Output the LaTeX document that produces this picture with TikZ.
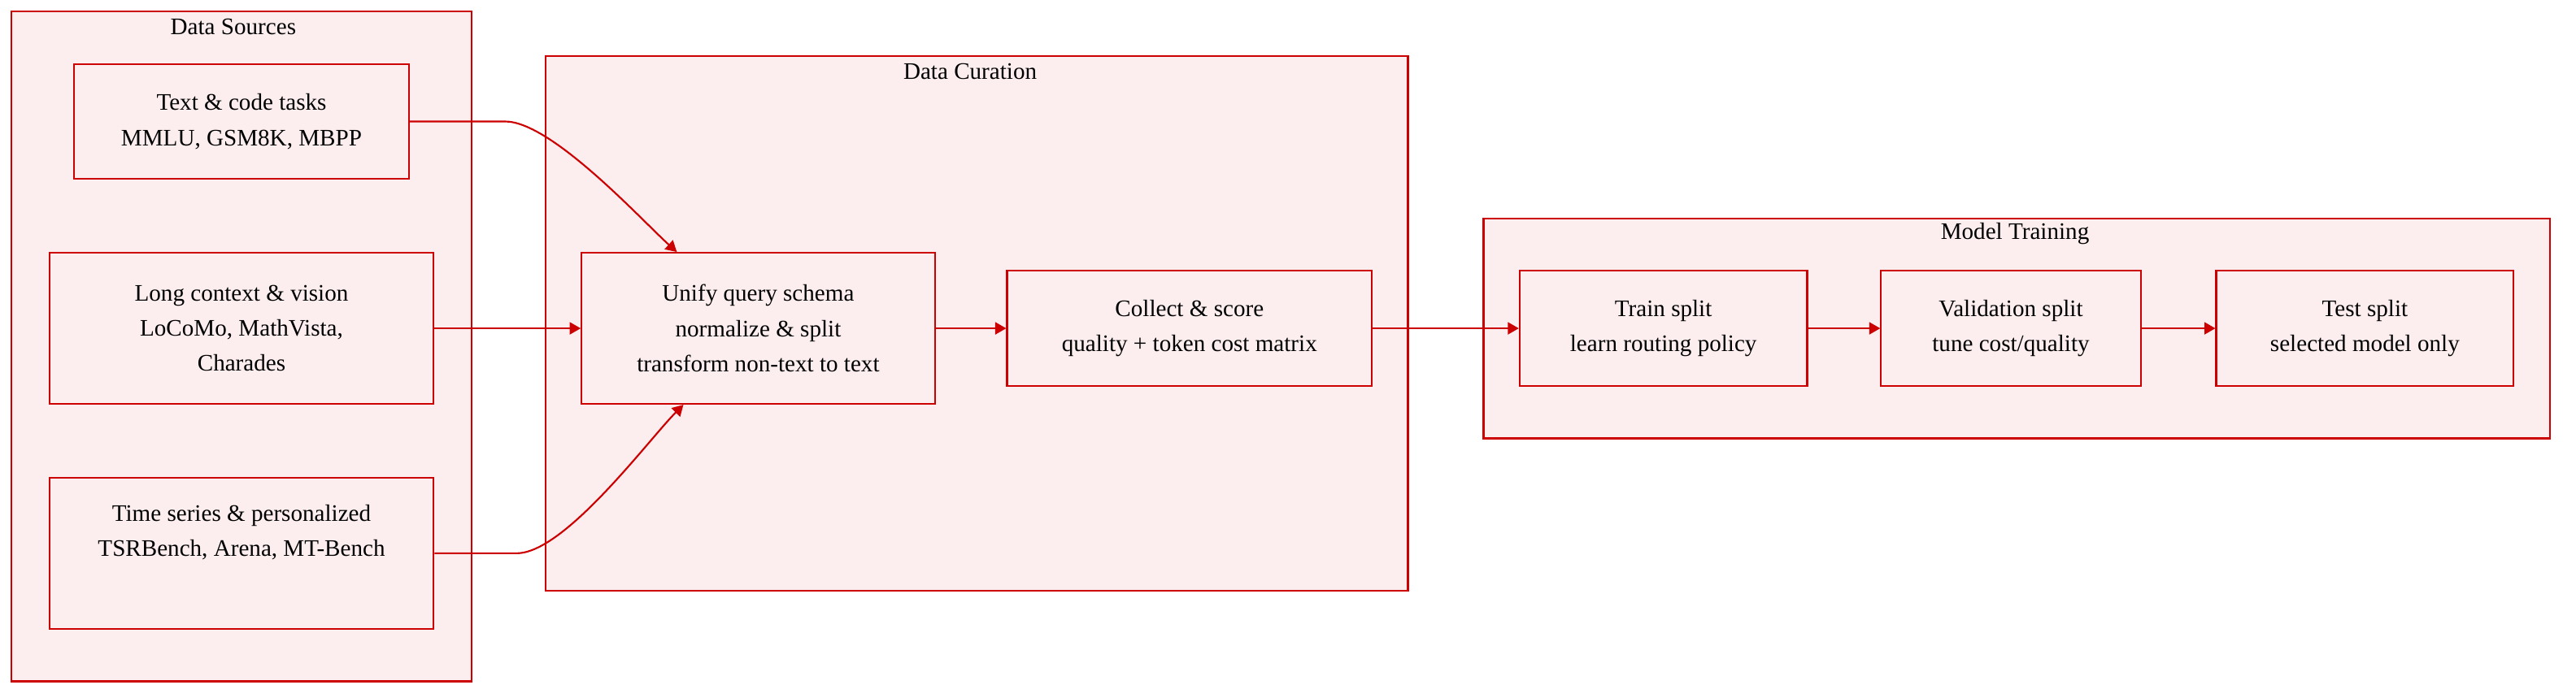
\documentclass[tikz,border=0pt]{standalone}
\usepackage{fontspec}
\setmainfont{Liberation Serif}
\usepackage{tikz}
\usetikzlibrary{shapes,arrows,arrows.meta,positioning}
\usepackage{xcolor}
\definecolor{edgered}{HTML}{CC0000}
\definecolor{boxpink}{HTML}{FCEEEF}

\begin{document}
\begin{tikzpicture}[x=0.2mm,y=0.2mm,
        font=\fontsize{8.2}{12.2}\selectfont,
        cluster/.style={draw=edgered,fill=boxpink,line width=0.6pt,inner sep=0pt},
        stepbox/.style={draw=edgered,fill=boxpink,line width=0.6pt,align=center,
                minimum height=14mm,inner sep=0pt},
        flow/.style={edgered,line width=0.6pt,-{Triangle[length=3.8pt,width=4.2pt]}}]
        \useasboundingbox (0,0) rectangle (1568,425);
        % groups
        \node[cluster,minimum width=56mm,minimum height=81.6mm] (sources) at (147,214) {};
        \node[cluster,minimum width=105mm,minimum height=65.2mm] (curation) at (594.5,228) {};
        \node[cluster,minimum width=129.8mm,minimum height=26.8mm] (training) at (1227.5,225) {};
        \node (sourcestitle) at ([xshift=-1mm,yshift=-2mm]sources.north) {Data Sources};
        \node (curationtitle) at ([xshift=-0.8mm,yshift=-2mm]curation.north) {Data Curation};
        \node (trainingtitle) at ([xshift=-0.2mm,yshift=-2mm]training.north) {Model Training};
        % data sources
        \node[stepbox,minimum width=40.8mm] (textcode) at (147,351) {Text \& code tasks\\MMLU, GSM8K, MBPP};
        \node[stepbox,minimum width=46.8mm,minimum height=18.4mm] (longctx) at (147,225) {Long context \& vision\\LoCoMo, MathVista,\\Charades};
        \node[stepbox,minimum width=46.8mm,minimum height=18.4mm] (timeser) at (147,88) {Time series \& personalized\\TSRBench, Arena, MT-Bench\\\strut};
        % curation
        \node[stepbox,minimum width=43mm,minimum height=18.4mm] (unify) at (461.5,225) {Unify query schema\\normalize \& split\\transform non-text to text};
        \node[stepbox,minimum width=44.4mm] (collect) at (724,225) {Collect \& score\\quality + token cost matrix};
        % training
        \node[stepbox,minimum width=35mm] (trainsplit) at (1012.5,225) {Train split\\learn routing policy};
        \node[stepbox,minimum width=31.6mm] (valsplit) at (1224,225) {Validation split\\tune cost/quality};
        \node[stepbox,minimum width=36.2mm] (testsplit) at (1439.5,225) {Test split\\selected model only};

        \draw[flow] (textcode.east) -- ++(58,0) to[out=0,in=138,looseness=0.55] ([xshift=-9.9mm]unify.north);
        \draw[flow] (longctx) -- (unify);
        \draw[flow] (timeser.east) -- ++(50,0) to[out=0,in=225,looseness=0.55] ([xshift=-9.1mm]unify.south);
        \draw[flow] (unify) -- (collect);
        \draw[flow] (collect) -- (trainsplit);
        \draw[flow] (trainsplit) -- (valsplit);
        \draw[flow] (valsplit) -- (testsplit);
\end{tikzpicture}
\end{document}
